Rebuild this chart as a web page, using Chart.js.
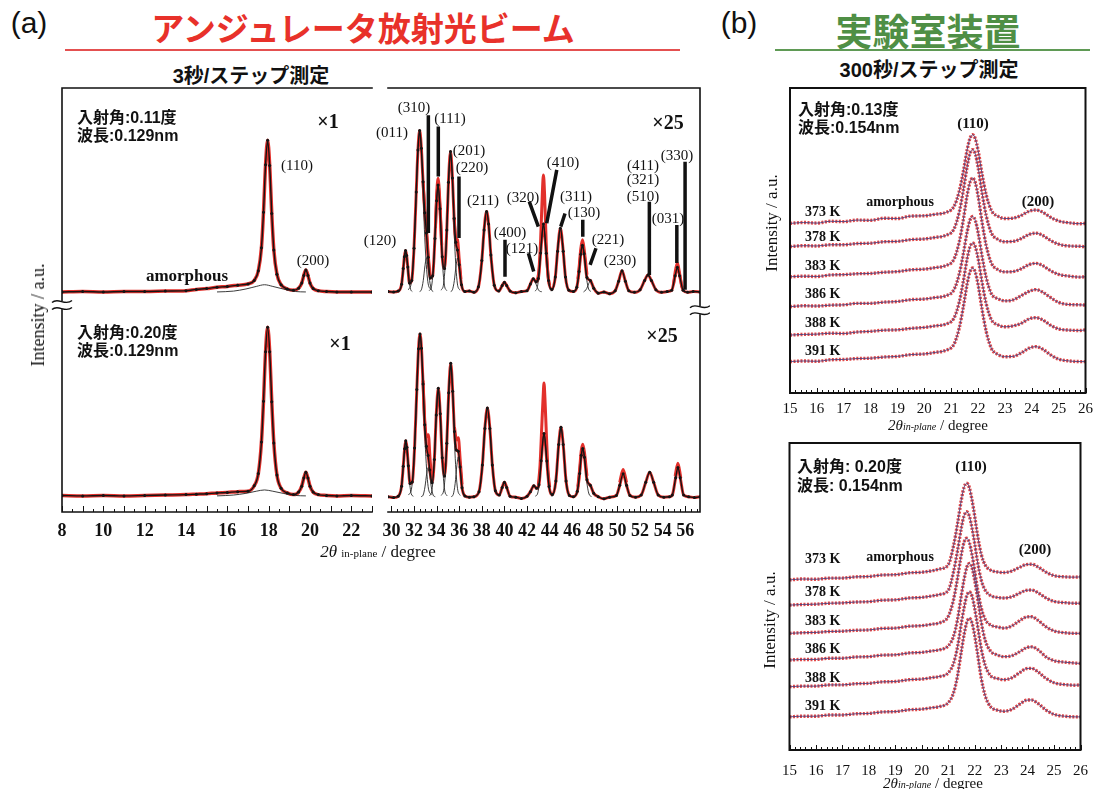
<!DOCTYPE html>
<html>
<head>
<meta charset="utf-8">
<script src="https://cdn.jsdelivr.net/npm/chart.js@4.4.0/dist/chart.umd.min.js"></script>
<style>
  body { margin: 0; width: 1101px; height: 789px; position: relative; overflow: hidden; background: #fff; font-family: "Liberation Sans", Arial, sans-serif; color: #111; }
  canvas { position: absolute; }
  .c { position: absolute; transform: translate(-50%, -50%); white-space: nowrap; line-height: 1; }
  .l { position: absolute; transform: translateY(-50%); white-space: nowrap; line-height: 1; }
  .ser { font-family: "Liberation Serif", "Times New Roman", serif; }
  .jp { font-family: "Liberation Sans", "Noto Sans CJK JP", sans-serif; font-weight: 700; }
  .rot { transform: translate(-50%, -50%) rotate(-90deg); }
  .hkl { font-family: "Liberation Serif", serif; font-size: 15px; }
  .kk { font-family: "Liberation Serif", serif; font-size: 14px; font-weight: 700; }
</style>
</head>
<body>

<!-- panel (a) headings -->
<div class="c" style="left:29px;top:23px;font-size:30px;">(a)</div>
<div class="c jp" style="left:363px;top:27px;font-size:33px;color:#e8312a;font-family:'Noto Sans CJK JP';">アンジュレータ放射光ビーム</div>
<div style="position:absolute;left:65px;top:49px;width:615px;height:2px;background:#e45050;"></div>
<div class="c jp" style="left:251px;top:76px;font-size:20px;">3秒/ステップ測定</div>

<!-- panel (b) headings -->
<div class="c" style="left:739px;top:23px;font-size:30px;">(b)</div>
<div class="c jp" style="left:928px;top:30px;font-size:37px;color:#4f8f45;font-family:'Noto Sans CJK JP';">実験室装置</div>
<div style="position:absolute;left:775px;top:49px;width:315px;height:2px;background:#5f9a55;"></div>
<div class="c jp" style="left:929px;top:70px;font-size:20px;">300秒/ステップ測定</div>

<canvas id="chartAL" width="340" height="475" style="left:40px;top:80px;"></canvas>
<canvas id="chartAR" width="350" height="475" style="left:360px;top:80px;"></canvas>
<canvas id="chartB1" width="330" height="360" style="left:770px;top:80px;"></canvas>
<canvas id="chartB2" width="330" height="354" style="left:770px;top:435px;"></canvas>

<!-- panel (a) annotations -->
<div class="l jp" style="left:77px;top:118px;font-size:16px;">入射角:0.11度</div>
<div class="l jp" style="left:77px;top:136px;font-size:16px;">波長:0.129nm</div>
<div class="c ser" style="left:328px;top:121px;font-size:20px;font-weight:700;">×1</div>
<div class="c hkl" style="left:297px;top:165px;">(110)</div>
<div class="c hkl" style="left:313px;top:260px;">(200)</div>
<div class="c ser" style="left:187px;top:275px;font-size:17px;font-weight:700;">amorphous</div>
<div class="l jp" style="left:77px;top:333px;font-size:16px;">入射角:0.20度</div>
<div class="l jp" style="left:77px;top:351px;font-size:16px;">波長:0.129nm</div>
<div class="c ser" style="left:340px;top:343px;font-size:20px;font-weight:700;">×1</div>
<div class="c ser" style="left:668px;top:122px;font-size:20px;font-weight:700;">×25</div>
<div class="c ser" style="left:662px;top:335px;font-size:20px;font-weight:700;">×25</div>
<div class="c hkl" style="left:380px;top:240px;">(120)</div>
<div class="c hkl" style="left:392px;top:132px;">(011)</div>
<div class="c hkl" style="left:414px;top:107px;">(310)</div>
<div class="c hkl" style="left:450px;top:118px;">(111)</div>
<div class="c hkl" style="left:469px;top:150px;">(201)</div>
<div class="c hkl" style="left:472px;top:167px;">(220)</div>
<div class="c hkl" style="left:483px;top:200px;">(211)</div>
<div class="c hkl" style="left:510px;top:232px;">(400)</div>
<div class="c hkl" style="left:522px;top:248px;">(121)</div>
<div class="c hkl" style="left:523px;top:197px;">(320)</div>
<div class="c hkl" style="left:563px;top:162px;">(410)</div>
<div class="c hkl" style="left:576px;top:196px;">(311)</div>
<div class="c hkl" style="left:584px;top:212px;">(130)</div>
<div class="c hkl" style="left:608px;top:239px;">(221)</div>
<div class="c hkl" style="left:620px;top:260px;">(230)</div>
<div class="c hkl" style="left:643px;top:165px;">(411)</div>
<div class="c hkl" style="left:643px;top:179px;">(321)</div>
<div class="c hkl" style="left:643px;top:196px;">(510)</div>
<div class="c hkl" style="left:668px;top:218px;">(031)</div>
<div class="c hkl" style="left:677px;top:155px;">(330)</div>
<div class="c ser rot" style="left:38px;top:315px;font-size:18px;">Intensity / a.u.</div>
<div class="c ser" style="left:378px;top:551px;font-size:17px;"><i>2θ</i> <span style="font-size:11px;">in-plane</span> / degree</div>

<!-- panel (b) annotations -->
<div class="l jp" style="left:798px;top:110px;font-size:16px;">入射角:0.13度</div>
<div class="l jp" style="left:798px;top:128px;font-size:16px;">波長:0.154nm</div>
<div class="c ser" style="left:973px;top:123px;font-size:15px;font-weight:700;">(110)</div>
<div class="c ser" style="left:900px;top:202px;font-size:14px;font-weight:700;">amorphous</div>
<div class="c ser" style="left:1038px;top:201px;font-size:15px;font-weight:700;">(200)</div>
<div class="l kk" style="left:805px;top:212px;">373 K</div>
<div class="l kk" style="left:805px;top:237px;">378 K</div>
<div class="l kk" style="left:805px;top:266px;">383 K</div>
<div class="l kk" style="left:805px;top:294px;">386 K</div>
<div class="l kk" style="left:805px;top:323px;">388 K</div>
<div class="l kk" style="left:805px;top:351px;">391 K</div>
<div class="c ser rot" style="left:771px;top:223px;font-size:17px;">Intensity / a.u.</div>
<div class="c ser" style="left:938px;top:425px;font-size:15px;"><i>2θ<span style="font-size:10px;">in-plane</span></i> / degree</div>

<div class="l jp" style="left:797px;top:467px;font-size:16px;">入射角: 0.20度</div>
<div class="l jp" style="left:797px;top:486px;font-size:16px;">波長: 0.154nm</div>
<div class="c ser" style="left:971px;top:466px;font-size:15px;font-weight:700;">(110)</div>
<div class="c ser" style="left:900px;top:557px;font-size:14px;font-weight:700;">amorphous</div>
<div class="c ser" style="left:1035px;top:549px;font-size:15px;font-weight:700;">(200)</div>
<div class="l kk" style="left:805px;top:559px;">373 K</div>
<div class="l kk" style="left:805px;top:592px;">378 K</div>
<div class="l kk" style="left:805px;top:621px;">383 K</div>
<div class="l kk" style="left:805px;top:649px;">386 K</div>
<div class="l kk" style="left:805px;top:678px;">388 K</div>
<div class="l kk" style="left:805px;top:706px;">391 K</div>
<div class="c ser rot" style="left:769px;top:620px;font-size:17px;">Intensity / a.u.</div>
<div class="c ser" style="left:933px;top:783px;font-size:15px;"><i>2θ<span style="font-size:10px;">in-plane</span></i> / degree</div>

<script>
// ************************************
// DATA  (a) left : 2theta 8-23, x1
// ************************************
const xAL = [8, 9, 10, 11, 12, 13, 14, 14.5, 15, 15.5, 16, 16.5, 17, 17.3, 17.5, 17.65, 17.75, 17.85, 17.95, 18.05, 18.15, 18.25, 18.4, 18.6, 18.9, 19.2, 19.45, 19.6, 19.7, 19.8, 19.9, 20.0, 20.15, 20.4, 20.8, 21.3, 22, 23];
const yALtop = [51.9, 52.0, 51.9, 52.0, 52.0, 52.1, 52.2, 52.5, 52.7, 53.0, 53.2, 53.5, 53.8, 54.6, 56.9, 62.3, 70.7, 81.9, 87.7, 81.7, 70.4, 61.8, 56.1, 53.6, 52.6, 52.3, 52.8, 54.0, 55.8, 57.1, 55.8, 54.0, 52.7, 52.2, 52.0, 51.9, 51.9, 51.9];
const yALbot = [3.9, 3.8, 3.9, 3.8, 3.9, 4.0, 4.1, 4.2, 4.3, 4.5, 4.6, 4.8, 4.9, 6.2, 9.1, 16.5, 26.1, 37.8, 43.6, 37.8, 26.0, 16.3, 8.7, 5.6, 4.5, 4.1, 4.7, 6.1, 8.0, 9.4, 8.0, 6.1, 4.7, 4.1, 3.9, 3.8, 3.9, 3.8];
// amorphous component and baseline under the (110) peak
const amorTop = [[15.5, 51.9], [16.3, 52.1], [16.9, 52.6], [17.4, 53.2], [17.8, 53.6], [18.2, 53.2], [18.7, 52.6], [19.3, 52.0], [19.8, 51.9]];
const amorBot = [[15.5, 3.8], [16.3, 4.0], [16.9, 4.4], [17.4, 4.9], [17.8, 5.2], [18.2, 4.9], [18.7, 4.4], [19.3, 3.9], [19.8, 3.8]];

// ************************************
// DATA  (a) right : 2theta 30-57, x25
// ************************************
const fitRTop = [[29.7,52.0],[30.2,51.9],[30.6,52.1],[30.9,53.7],[31.05,57.4],[31.15,60.2],[31.25,61.7],[31.35,60.5],[31.45,57.8],[31.6,54.0],[31.8,54.6],[32.0,62.2],[32.2,75.5],[32.35,85.4],[32.5,90.0],[32.65,85.8],[32.8,77.9],[32.95,70.6],[33.1,65.8],[33.25,60.1],[33.45,55.2],[33.65,55.7],[33.85,64.5],[34.0,73.4],[34.13,77.1],[34.3,71.5],[34.5,60.2],[34.7,57.4],[34.9,66.5],[35.05,77.8],[35.23,85.0],[35.4,78.8],[35.55,69.2],[35.7,63.6],[35.85,61.8],[36.0,58.3],[36.2,53.6],[36.5,52.0],[36.9,52.1],[37.3,51.8],[37.7,53.1],[38.0,59.3],[38.2,66.5],[38.42,70.9],[38.6,67.9],[38.8,60.6],[39.1,53.5],[39.5,52.1],[39.8,53.4],[40.0,54.2],[40.2,53.4],[40.5,52.1],[41.0,51.7],[41.5,52.0],[42.0,52.2],[42.3,53.8],[42.55,55.0],[42.8,54.3],[43.0,55.1],[43.2,61.1],[43.45,67.9],[43.7,61.0],[43.9,54.6],[44.2,52.5],[44.5,55.4],[44.7,61.5],[44.95,66.9],[45.2,61.5],[45.4,55.4],[45.7,52.3],[46.1,52.0],[46.4,53.0],[46.6,56.7],[46.75,60.8],[46.9,62.9],[47.05,60.9],[47.3,55.3],[47.6,54.6],[47.9,52.8],[48.3,51.6],[48.8,51.9],[49.3,51.5],[49.8,52.2],[50.1,54.4],[50.4,56.9],[50.7,54.4],[51.0,52.2],[51.5,51.8],[52.0,52.4],[52.4,54.6],[52.7,55.9],[53.0,54.6],[53.4,52.4],[53.9,51.8],[54.4,52.0],[54.8,52.3],[55.1,55.7],[55.3,57.7],[55.5,55.7],[55.8,52.3],[56.2,51.8],[56.7,52.0],[57.3,51.9]];
const fitRBot = [[29.7,3.6],[30.2,3.4],[30.6,3.7],[30.9,6.1],[31.05,10.8],[31.17,14.9],[31.27,16.8],[31.37,15.3],[31.5,10.9],[31.65,6.7],[31.85,7.1],[32.05,15.1],[32.25,28.9],[32.4,38.5],[32.53,42.0],[32.66,38.6],[32.8,30.2],[32.95,20.6],[33.1,15.5],[33.25,13.3],[33.4,9.9],[33.6,6.9],[33.8,12.4],[33.97,22.9],[34.15,29.2],[34.32,23.2],[34.5,12.8],[34.7,8.5],[34.9,16.2],[35.07,28.1],[35.25,35.1],[35.42,28.5],[35.58,19.0],[35.75,14.6],[35.92,14.3],[36.08,10.6],[36.25,5.7],[36.5,3.8],[36.9,3.5],[37.3,3.6],[37.75,4.8],[38.05,11.1],[38.27,19.7],[38.49,24.5],[38.71,19.7],[38.93,11.1],[39.2,5.0],[39.55,4.0],[39.8,5.8],[40.0,7.0],[40.2,5.8],[40.5,3.7],[41.0,3.5],[41.5,3.2],[42.0,3.7],[42.3,4.8],[42.6,6.2],[42.85,5.6],[43.05,6.4],[43.25,12.1],[43.5,18.5],[43.75,12.0],[43.95,6.0],[44.25,4.1],[44.55,7.3],[44.8,15.9],[45.0,20.0],[45.2,15.9],[45.45,7.3],[45.75,3.9],[46.1,3.6],[46.45,4.9],[46.65,9.1],[46.8,13.4],[46.93,15.0],[47.08,12.9],[47.3,7.6],[47.6,6.3],[47.9,4.4],[48.3,3.6],[48.8,3.1],[49.3,3.5],[49.9,3.9],[50.2,6.3],[50.5,9.0],[50.8,6.3],[51.1,3.9],[51.6,3.5],[52.1,4.0],[52.5,7.0],[52.85,9.4],[53.2,7.0],[53.6,4.0],[54.1,3.5],[54.6,3.6],[54.85,4.0],[55.15,8.1],[55.35,10.5],[55.55,8.1],[55.85,4.0],[56.3,3.6],[56.8,3.4],[57.3,3.6]];

// measured points that stand out above the fit (red)
const redRTop = [[32.8,78],[32.95,71.5],[33.1,67],[33.25,61],[33.4,56],[33.4,null],
  [33.9,67],[34.0,74.5],[34.13,78.7],[34.3,72.5],[34.45,63],[34.45,null],
  [35.55,69.5],[35.7,64.5],[35.85,64.2],[36.0,59.5],[36.15,55],[36.15,null],
  [42.9,54.5],[43.05,57],[43.2,64],[43.35,75],[43.45,79.5],[43.55,75],[43.7,63],[43.85,56],[44.0,53.5],[44.0,null],
  [46.5,55],[46.6,57.5],[46.75,62],[46.9,64.2],[47.05,62],[47.3,56],[47.3,null],
  [54.95,53.5],[55.1,56.5],[55.3,58.7],[55.5,56.2],[55.7,53]];
const redRBot = [[32.8,31],[32.95,21.5],[33.1,17.8],[33.27,18.2],[33.42,12.5],[33.55,8],[33.55,null],
  [35.58,20],[35.75,17],[35.92,17.5],[36.08,12.5],[36.25,6.5],[36.25,null],
  [43.0,6.5],[43.15,11],[43.3,20],[43.42,27],[43.5,30.4],[43.58,27],[43.7,19],[43.85,10],[44.0,6],[44.0,null],
  [46.5,6],[46.65,10],[46.8,14.5],[46.93,16.0],[47.08,14],[47.3,8.5],[47.3,null],
  [50.2,7],[50.5,10],[50.8,7],[50.8,null],
  [55.1,8.5],[55.35,11.5],[55.6,8]];

// single fitted peaks
const compRTop = [[30.65,52.0],[30.8,52.5],[30.97,55.1],[31.12,59.3],[31.25,61.4],[31.38,59.3],[31.53,55.1],[31.7,52.5],[31.85,52.0],[31.85,null],
  [31.5,52.4],[31.78,54.4],[32.05,64.8],[32.28,81.5],[32.5,89.9],[32.72,81.5],[32.95,64.8],[33.22,54.4],[33.5,52.4],[33.5,null],
  [32.5,52.0],[32.65,52.4],[32.82,54.6],[32.97,58.1],[33.1,59.9],[33.23,58.1],[33.38,54.6],[33.55,52.4],[33.7,52.0],[33.7,null],
  [33.35,52.2],[33.57,53.5],[33.78,60.4],[33.96,71.4],[34.13,76.9],[34.3,71.4],[34.48,60.4],[34.69,53.5],[34.9,52.2],[34.9,null],
  [34.4,52.3],[34.63,54.0],[34.86,63.1],[35.05,77.6],[35.23,84.9],[35.41,77.6],[35.6,63.1],[35.83,54.0],[36.06,52.3],[36.06,null],
  [35.25,52.0],[35.4,52.4],[35.57,54.6],[35.72,58.1],[35.85,59.9],[35.98,58.1],[36.13,54.6],[36.3,52.4],[36.45,52.0],[36.45,null],
  [37.4,52.1],[37.7,53.1],[37.97,58.4],[38.2,66.7],[38.42,70.9],[38.64,66.7],[38.87,58.4],[39.14,53.1],[39.4,52.1],[39.4,null],
  [41.8,51.95],[42.0,52.1],[42.18,52.9],[42.37,54.2],[42.55,54.9],[42.73,54.2],[42.92,52.9],[43.1,52.1],[43.3,51.95],[43.3,null],
  [42.7,52.1],[42.9,52.9],[43.1,57.3],[43.29,64.4],[43.45,67.9],[43.61,64.4],[43.8,57.3],[44.0,52.9],[44.2,52.1],[44.2,null],
  [44.1,52.1],[44.33,52.9],[44.56,57.0],[44.76,63.6],[44.95,66.9],[45.14,63.6],[45.34,57.0],[45.57,52.9],[45.8,52.1],[45.8,null],
  [46.15,52.0],[46.35,52.6],[46.56,55.6],[46.73,60.5],[46.9,62.9],[47.07,60.5],[47.24,55.6],[47.45,52.6],[47.65,52.0],[47.65,null],
  [47.0,51.9],[47.1,52.1],[47.29,52.75],[47.45,53.85],[47.6,54.4],[47.75,53.85],[47.91,52.75],[48.1,52.1],[48.3,51.9]];
const compRBot = [[30.6,3.7],[30.79,4.35],[30.97,7.9],[31.13,13.6],[31.27,16.5],[31.41,13.6],[31.57,7.9],[31.75,4.35],[31.94,3.7],[31.94,null],
  [31.52,4.0],[31.81,6.0],[32.08,16.6],[32.31,33.5],[32.53,42.0],[32.75,33.5],[32.98,16.6],[33.25,6.0],[33.54,4.0],[33.54,null],
  [32.62,3.6],[32.8,3.95],[32.97,5.9],[33.12,9.0],[33.25,10.5],[33.38,9.0],[33.53,5.9],[33.7,3.95],[33.88,3.6],[33.88,null],
  [33.37,3.8],[33.59,5.2],[33.8,12.2],[33.98,23.4],[34.15,29.0],[34.32,23.4],[34.5,12.2],[34.71,5.2],[34.93,3.8],[34.93,null],
  [34.41,3.9],[34.65,5.5],[34.88,14.2],[35.07,28.1],[35.25,35.0],[35.43,28.1],[35.62,14.2],[35.85,5.5],[36.09,3.9],[36.09,null],
  [35.29,3.6],[35.47,4.1],[35.64,6.7],[35.79,10.9],[35.92,13.0],[36.05,10.9],[36.2,6.7],[36.37,4.1],[36.55,3.6],[36.55,null],
  [37.48,3.8],[37.77,4.9],[38.04,10.6],[38.27,19.9],[38.49,24.5],[38.71,19.9],[38.94,10.6],[39.21,4.9],[39.5,3.8],[39.5,null],
  [42.73,3.7],[42.95,4.5],[43.16,8.6],[43.34,15.2],[43.5,18.5],[43.66,15.2],[43.84,8.6],[44.05,4.5],[44.27,3.7],[44.27,null],
  [44.13,3.7],[44.38,4.6],[44.61,9.1],[44.81,16.4],[45.0,20.0],[45.19,16.4],[45.39,9.1],[45.62,4.6],[45.87,3.7],[45.87,null],
  [46.16,3.65],[46.38,4.25],[46.59,7.4],[46.77,12.5],[46.93,15.0],[47.09,12.5],[47.27,7.4],[47.48,4.25],[47.7,3.65]];

// index lines from the hkl labels down to the peaks
const barsRTop = [[33.27,93.6],[33.27,65.8],[33.27,null],
  [34.15,90.9],[34.15,79.1],[34.15,null],
  [35.98,79.1],[35.98,64.6],[35.98,null],
  [40.05,64.2],[40.05,55.5],[40.05,null],
  [42.12,61.0],[42.59,56.7],[42.59,null],
  [42.2,73.2],[43.0,67.3],[43.0,null],
  [44.63,80.7],[43.74,68.1],[43.74,null],
  [45.36,70.4],[44.98,67.3],[44.98,null],
  [46.93,68.9],[46.93,64.9],[46.93,null],
  [48.1,62.2],[47.58,58.3],[47.58,null],
  [52.82,73.2],[52.82,55.9],[52.82,null],
  [55.25,67.7],[55.25,58.7],[55.25,null],
  [55.98,82.6],[55.98,52.4]];

// ************************************
// DATA  (b) top : incidence 0.13 deg
// ************************************
const xB1 = [15, 15.5, 16, 16.5, 17, 17.5, 18, 18.5, 19, 19.5, 20, 20.4, 20.8, 21.1, 21.3, 21.45, 21.6, 21.7, 21.8, 21.9, 22.0, 22.15, 22.3, 22.5, 22.75, 23.0, 23.3, 23.6, 23.9, 24.15, 24.4, 24.7, 25.0, 25.4, 25.8, 26];
const b1K373 = [55.6, 55.9, 55.7, 56.3, 56.2, 56.7, 56.6, 57.3, 57.2, 58.0, 58.1, 58.6, 59.2, 61.1, 66.1, 72.5, 80.0, 83.5, 84.7, 83.3, 79.6, 71.8, 65.1, 59.8, 57.9, 57.2, 57.3, 58.2, 59.6, 60.0, 59.3, 57.6, 56.4, 55.8, 55.5, 55.6];
const b1K378 = [48.0, 48.3, 48.2, 48.6, 48.6, 49.0, 49.1, 49.6, 49.7, 50.3, 50.5, 51.0, 51.7, 53.7, 59.3, 66.3, 74.5, 78.5, 79.8, 78.3, 74.1, 65.6, 58.3, 52.4, 50.3, 49.6, 49.7, 50.6, 52.0, 52.4, 51.7, 50.0, 48.8, 48.2, 48.1, 47.9];
const b1K383 = [38.1, 38.3, 38.2, 38.7, 38.8, 39.1, 39.2, 39.6, 39.8, 40.4, 40.6, 41.1, 41.8, 43.8, 49.5, 56.7, 65.1, 69.1, 70.5, 68.9, 64.7, 56.0, 48.5, 42.5, 40.4, 39.7, 39.8, 40.7, 42.1, 42.5, 41.8, 40.1, 38.9, 38.3, 38.0, 38.1];
const b1K386 = [28.3, 28.6, 28.5, 28.8, 28.9, 29.4, 29.4, 29.8, 30.0, 30.6, 30.8, 31.3, 31.9, 33.8, 39.0, 45.5, 53.1, 56.7, 57.9, 56.5, 52.7, 44.8, 38.0, 32.5, 30.9, 30.2, 30.5, 31.9, 33.3, 33.9, 33.1, 31.3, 29.7, 29.0, 28.9, 28.8];
const b1K388 = [19.0, 19.2, 19.3, 19.6, 19.5, 20.0, 20.2, 20.6, 20.7, 21.2, 21.5, 22.0, 22.6, 24.5, 29.8, 36.5, 44.3, 47.9, 49.2, 47.9, 44.2, 36.3, 29.4, 24.0, 22.3, 21.7, 22.0, 22.8, 24.3, 24.7, 24.0, 22.2, 21.0, 20.6, 20.5, 20.7];
const b1K391 = [10.3, 10.5, 10.4, 10.9, 11.0, 11.3, 11.4, 11.8, 12.0, 12.6, 12.8, 13.3, 14.0, 15.9, 21.3, 28.1, 36.0, 39.7, 41.0, 39.5, 35.6, 27.4, 20.3, 14.6, 12.6, 11.9, 12.0, 13.1, 14.7, 15.2, 14.4, 12.5, 11.1, 10.5, 10.3, 10.3];

// ************************************
// DATA  (b) bottom : incidence 0.20 deg
// ************************************
const xB2 = [15, 15.5, 16, 16.5, 17, 17.5, 18, 18.5, 19, 19.5, 20, 20.4, 20.7, 21.0, 21.2, 21.35, 21.5, 21.6, 21.7, 21.8, 21.9, 22.0, 22.1, 22.25, 22.4, 22.6, 22.85, 23.1, 23.4, 23.7, 23.95, 24.15, 24.4, 24.7, 25.0, 25.4, 25.8, 26];
const b2K373 = [55.4, 55.7, 55.6, 56.0, 56.0, 56.4, 56.5, 57.0, 57.1, 57.7, 57.9, 58.4, 59.0, 60.3, 66.5, 73.6, 81.7, 85.6, 86.9, 85.4, 81.4, 76.2, 70.4, 63.7, 60.2, 58.6, 58.0, 57.8, 58.3, 59.5, 60.4, 60.5, 59.6, 57.9, 56.8, 56.4, 56.3, 56.4];
const b2K378 = [47.2, 47.4, 47.5, 47.8, 47.9, 48.2, 48.3, 48.8, 48.9, 49.5, 49.7, 50.2, 50.7, 52.0, 58.0, 64.8, 72.6, 76.3, 77.6, 76.1, 72.3, 67.3, 61.7, 55.3, 52.0, 50.3, 49.7, 49.5, 49.9, 51.1, 52.0, 52.1, 51.2, 49.5, 48.4, 48.0, 47.8, 47.8];
const b2K383 = [38.0, 38.2, 38.3, 38.6, 38.7, 39.0, 39.1, 39.6, 39.7, 40.3, 40.5, 41.0, 41.5, 43.5, 48.9, 55.9, 63.9, 67.7, 69.0, 67.5, 63.6, 58.5, 52.8, 46.2, 42.5, 40.7, 40.1, 39.7, 40.4, 42.1, 43.3, 43.4, 42.2, 40.1, 38.8, 38.2, 38.0, 38.0];
const b2K386 = [29.3, 29.5, 29.5, 29.9, 29.9, 30.3, 30.4, 30.9, 31.0, 31.6, 31.8, 32.3, 32.7, 33.9, 37.0, 42.4, 50.6, 55.6, 59.5, 60.8, 59.4, 55.3, 50.1, 41.6, 35.7, 32.2, 31.0, 30.4, 30.7, 32.0, 33.3, 33.6, 32.6, 30.3, 29.1, 28.6, 28.3, 28.2];
const b2K388 = [20.6, 20.8, 20.8, 21.2, 21.2, 21.6, 21.7, 22.2, 22.3, 22.9, 23.1, 23.6, 24.0, 25.1, 28.2, 33.5, 41.5, 46.4, 50.2, 51.5, 50.1, 46.1, 41.0, 32.9, 27.5, 24.2, 23.3, 22.9, 23.5, 25.2, 26.5, 26.6, 25.4, 23.3, 21.9, 21.3, 21.1, 21.2];
const b2K391 = [10.8, 11.0, 11.0, 11.4, 11.4, 11.8, 11.9, 12.4, 12.5, 13.1, 13.3, 13.8, 14.2, 15.4, 18.6, 24.1, 32.4, 37.6, 41.5, 42.9, 41.4, 37.3, 31.9, 23.3, 17.6, 14.1, 13.0, 12.6, 13.2, 14.9, 16.2, 16.3, 15.1, 13.0, 11.6, 11.0, 10.8, 10.8];

// ************************************
// helpers
// ************************************
const pts = (xs, ys) => xs.map((x, i) => ({x: x, y: ys[i]}));
const pairs = a => a.map(p => ({x: p[0], y: p[1]}));

function redLine(data, w) {
  return {data: data, borderColor: '#e2302b', borderWidth: w || 3.5, pointRadius: 0,
    cubicInterpolationMode: 'monotone', order: 3};
}
function fitLine(data) {
  return {data: data, borderColor: '#141414', borderWidth: 1.4, pointRadius: 1.5, pointBorderWidth: 0,
    pointBackgroundColor: '#141414', cubicInterpolationMode: 'monotone', order: 1};
}
function thinLine(data) {
  return {data: data, borderColor: '#262626', borderWidth: 0.9, pointRadius: 0,
    cubicInterpolationMode: 'monotone', order: 2};
}
function barLine(data) {
  return {data: data, borderColor: '#111', borderWidth: 3.5, pointRadius: 0, tension: 0, order: 0};
}
function dataB(data) {
  return {data: data, borderColor: 'rgba(222,52,52,0.9)', borderWidth: 3.4, borderDash: [2, 1.5], pointRadius: 0,
    cubicInterpolationMode: 'monotone', order: 2};
}
function fitB(data) {
  return {data: data, borderColor: '#4d3f7e', borderWidth: 0.9, pointRadius: 0,
    cubicInterpolationMode: 'monotone', order: 1};
}

// frame, inward ticks and axis breaks
const decor = {
  id: 'decor',
  afterDatasetsDraw(chart, args, o) {
    if (!o || !o.sides) return;
    const ctx = chart.ctx, a = chart.chartArea, xs = chart.scales.x, ys = chart.scales.y;
    ctx.save();
    ctx.strokeStyle = '#111';
    ctx.lineWidth = o.lw;
    ctx.lineCap = 'square';
    ctx.beginPath();
    if (o.sides.includes('t')) { ctx.moveTo(a.left, a.top); ctx.lineTo(a.right, a.top); }
    if (o.sides.includes('b')) { ctx.moveTo(a.left, a.bottom); ctx.lineTo(a.right, a.bottom); }
    if (o.sides.includes('l')) { ctx.moveTo(a.left, a.top); ctx.lineTo(a.left, a.bottom); }
    if (o.sides.includes('r')) { ctx.moveTo(a.right, a.top); ctx.lineTo(a.right, a.bottom); }
    ctx.stroke();

    ctx.lineWidth = 1;
    ctx.lineCap = 'butt';
    ctx.beginPath();
    const n = Math.round((o.tickTo - o.tickFrom) / o.minor);
    for (let i = 0; i <= n; i++) {
      const px = Math.round(xs.getPixelForValue(o.tickFrom + i * o.minor)) + 0.5;
      const len = (i % o.every === 0) ? o.long : o.short;
      ctx.moveTo(px, a.bottom);
      ctx.lineTo(px, a.bottom - len);
    }
    ctx.stroke();

    (o.breaks || []).forEach(b => {
      const px = b.side === 'l' ? a.left : a.right;
      const py = ys.getPixelForValue(b.value);
      ctx.fillStyle = '#fff';
      ctx.fillRect(px - 10, py - 4, 20, 8);
      ctx.lineWidth = 1.4;
      [-3.5, 3.5].forEach(dy => {
        ctx.beginPath();
        ctx.moveTo(px - 10, py + dy + 1);
        ctx.bezierCurveTo(px - 4, py + dy - 5, px + 3, py + dy + 5, px + 10, py + dy - 1);
        ctx.stroke();
      });
    });
    ctx.restore();
  }
};
Chart.register(decor);

function chartOptions(xmin, xmax, step, pad, axisH, font, tickPad, deco) {
  return {
    responsive: false,
    animation: false,
    events: [],
    layout: {padding: pad},
    plugins: {legend: {display: false}, tooltip: {enabled: false}, decor: deco},
    scales: {
      x: {
        type: 'linear', min: xmin, max: xmax,
        afterFit: (s) => { s.height = axisH; },
        grid: {display: false, drawTicks: false},
        border: {display: false},
        ticks: {stepSize: step, autoSkip: false, maxRotation: 0, includeBounds: false,
          padding: tickPad, color: '#111', font: font}
      },
      y: {display: false, min: 0, max: 100}
    }
  };
}

const fontA = {family: "'Liberation Serif', 'Times New Roman', serif", size: 18, weight: 'bold'};
const fontB = {family: "'Liberation Serif', 'Times New Roman', serif", size: 15};

// ************************************
// (a) left
// ************************************
new Chart(document.getElementById('chartAL'), {
  type: 'line',
  data: {
    datasets: [
      fitLine(pts(xAL, yALtop)),
      fitLine(pts(xAL, yALbot)),
      thinLine(pairs(amorTop)),
      thinLine(pairs(amorBot)),
      redLine(pts(xAL, yALtop)),
      redLine(pts(xAL, yALbot))
    ]
  },
  options: chartOptions(8, 23, 2, {left: 22, right: 8, top: 8, bottom: 0}, 43, fontA, 9,
    {sides: 'tbl', lw: 1.6, tickFrom: 8, tickTo: 23, minor: 0.5, every: 2, long: 6, short: 3,
     breaks: [{side: 'l', value: 48.8}]})
});

// ************************************
// (a) right
// ************************************
new Chart(document.getElementById('chartAR'), {
  type: 'line',
  data: {
    datasets: [
      barLine(pairs(barsRTop)),
      fitLine(pairs(fitRTop)),
      fitLine(pairs(fitRBot)),
      thinLine(pairs(compRTop)),
      thinLine(pairs(compRBot)),
      redLine(pairs(fitRTop), 3),
      redLine(pairs(fitRBot), 3),
      redLine(pairs(redRTop), 3),
      redLine(pairs(redRBot), 3)
    ]
  },
  options: chartOptions(29.7, 57.3, 2, {left: 28, right: 10, top: 8, bottom: 0}, 43, fontA, 9,
    {sides: 'tbr', lw: 1.6, tickFrom: 30, tickTo: 57, minor: 0.5, every: 4, long: 6, short: 3,
     breaks: [{side: 'r', value: 47.6}]})
});

// ************************************
// (b) top / bottom
// ************************************
const seriesB1 = [b1K373, b1K378, b1K383, b1K386, b1K388, b1K391];
const seriesB2 = [b2K373, b2K378, b2K383, b2K386, b2K388, b2K391];

new Chart(document.getElementById('chartB1'), {
  type: 'line',
  data: {
    datasets: seriesB1.map(s => fitB(pts(xB1, s))).concat(seriesB1.map(s => dataB(pts(xB1, s))))
  },
  options: chartOptions(15, 26, 1, {left: 20, right: 12, top: 8, bottom: 0}, 47, fontB, 7,
    {sides: 'tblr', lw: 2, tickFrom: 15, tickTo: 26, minor: 0.2, every: 5, long: 5, short: 3})
});

new Chart(document.getElementById('chartB2'), {
  type: 'line',
  data: {
    datasets: seriesB2.map(s => fitB(pts(xB2, s))).concat(seriesB2.map(s => dataB(pts(xB2, s))))
  },
  options: chartOptions(15, 26, 1, {left: 19, right: 14, top: 8, bottom: 0}, 39, fontB, 12,
    {sides: 'tblr', lw: 2, tickFrom: 15, tickTo: 26, minor: 0.2, every: 5, long: 5, short: 3})
});
</script>
</body>
</html>
